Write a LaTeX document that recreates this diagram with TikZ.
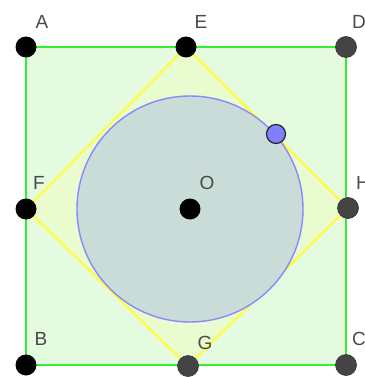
\documentclass[tikz,border=0pt]{standalone}
\usepackage{fontspec}
\setmainfont{Liberation Sans}
\definecolor{sqfill}{HTML}{E4FBE0}
\definecolor{sqline}{HTML}{33EE33}
\definecolor{dmfill}{HTML}{E9FBCF}
\definecolor{dmline}{HTML}{FFFF33}
\definecolor{cfill}{HTML}{C9DCD8}
\definecolor{cline}{HTML}{8888FF}
\definecolor{lbl}{HTML}{4A4A4A}
\definecolor{dgray}{HTML}{444444}
\definecolor{bpt}{HTML}{7F7FFF}
\begin{document}
\begin{tikzpicture}[x=1pt,y=-1pt,
  pt/.style={circle,fill=black,inner sep=0pt,minimum size=21pt},
  gpt/.style={circle,fill=dgray,draw=black!80,line width=0.6pt,inner sep=0pt,minimum size=21pt},
  lab/.style={text=lbl,font=\fontsize{19}{19}\selectfont,inner sep=0pt}]
\useasboundingbox (0,0) rectangle (364,377);
\clip (0,0) rectangle (364,377);
\coordinate (cA) at (26,47);
\coordinate (cD) at (346,47);
\coordinate (cC) at (346,365);
\coordinate (cB) at (26,365);
\coordinate (cE) at (186,47);
\coordinate (cF) at (26,209);
\coordinate (cH) at (348,208);
\coordinate (cG) at (188,366);
\coordinate (cO) at (190,209);
% square
\draw[sqline,fill=sqfill,line width=2pt] (cA) -- (cD) -- (cC) -- (cB) -- cycle;
% diamond
\draw[dmline,fill=dmfill,line width=2pt] (cE) -- (cH) -- (cG) -- (cF) -- cycle;
% circle
\draw[cline,fill=cfill,line width=1.4pt] (cO) circle[radius=113];
% points
\node[pt] (A) at (cA) {};
\node[pt] (E) at (cE) {};
\node[gpt] (D) at (cD) {};
\node[pt] (F) at (cF) {};
\node[pt] (O) at (cO) {};
\node[gpt] (H) at (cH) {};
\node[pt] (B) at (cB) {};
\node[gpt] (G) at (cG) {};
\node[gpt] (C) at (cC) {};
\node[circle,fill=bpt,draw=black!85,line width=1.2pt,inner sep=0pt,minimum size=19pt] (P) at (276,134) {};
% labels
\node[lab] (lA) at (42,22) {A};
\node[lab] (lE) at (201,22) {E};
\node[lab,anchor=west] (lD) at (352,22) {D};
\node[lab] (lF) at (39,183) {F};
\node[lab] (lO) at (207,183) {O};
\node[lab,anchor=west] (lH) at (356,183) {H};
\node[lab] (lB) at (41,339) {B};
\node[lab] (lG) at (205,343) {G};
\node[lab,anchor=west] (lC) at (352,339) {C};
\end{tikzpicture}
\end{document}
